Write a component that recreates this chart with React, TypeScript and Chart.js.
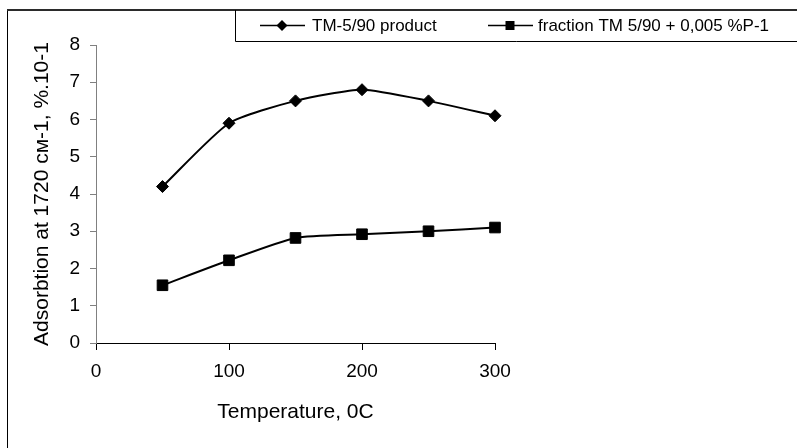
import React, { useEffect, useRef } from 'react';
import { Chart, registerables } from 'chart.js';

Chart.register(...registerables);

const temperatures = [50, 100, 150, 200, 250, 300];
const productValues = [4.2, 5.9, 6.5, 6.8, 6.5, 6.1];
const fractionValues = [1.55, 2.22, 2.82, 2.92, 3.0, 3.1];
const seriesLabels = ['TM-5/90 product', 'fraction TM 5/90 + 0,005 %P-1'];
const xRange = [0, 300];
const xStep = 100;
const yRange = [0, 8];
const yStep = 1;
const xTitle = 'Temperature, 0C';
const yTitle = 'Adsorbtion at 1720 см-1, %.10-1';

const FONT = "'Liberation Sans', Arial, sans-serif";

function drawMarker(ctx: CanvasRenderingContext2D, style: string, x: number, y: number, r: number) {
  ctx.beginPath();
  if (style === 'rectRot') {
    ctx.moveTo(x, y - r);
    ctx.lineTo(x + r, y);
    ctx.lineTo(x, y + r);
    ctx.lineTo(x - r, y);
    ctx.closePath();
  } else {
    ctx.rect(x - r, y - r, 2 * r, 2 * r);
  }
  ctx.fill();
}

const framePlugin = {
  id: 'frame',
  afterDraw(chart: any) {
    const ctx = chart.ctx as CanvasRenderingContext2D;
    ctx.save();
    ctx.strokeStyle = '#000';
    ctx.lineWidth = 1;
    ctx.beginPath();
    ctx.moveTo(7.5, 10);
    ctx.lineTo(7.5, 448);
    ctx.stroke();
    ctx.strokeStyle = '#2b2b2b';
    ctx.lineWidth = 2;
    ctx.beginPath();
    ctx.moveTo(7, 10);
    ctx.lineTo(797, 10);
    ctx.stroke();

    ctx.strokeStyle = '#000';
    ctx.lineWidth = 1;
    ctx.beginPath();
    ctx.moveTo(800, 41.5);
    ctx.lineTo(235.5, 41.5);
    ctx.lineTo(235.5, 10);
    ctx.stroke();

    const entries = [
      { x0: 260, x1: 305, mx: 282, tx: 312, style: 'rectRot', r: 5.5 },
      { x0: 488, x1: 533, mx: 510, tx: 538, style: 'rect', r: 4.5 },
    ];
    const y = 25.5;
    chart.data.datasets.forEach((ds: any, i: number) => {
      const e = entries[i];
      ctx.strokeStyle = ds.borderColor;
      ctx.fillStyle = ds.pointBackgroundColor;
      ctx.lineWidth = 1.5;
      ctx.beginPath();
      ctx.moveTo(e.x0, y);
      ctx.lineTo(e.x1, y);
      ctx.stroke();
      drawMarker(ctx, e.style, e.mx, y, e.r);
      ctx.fillStyle = '#000';
      ctx.font = `17px ${FONT}`;
      ctx.textBaseline = 'middle';
      ctx.textAlign = 'left';
      ctx.fillText(ds.label, e.tx, y + 1);
    });
    ctx.restore();
  },
};

export default function App() {
  const canvasRef = useRef<HTMLCanvasElement | null>(null);

  useEffect(() => {
    if (!canvasRef.current) return;
    const chart = new Chart(canvasRef.current, {
      type: 'line',
      data: {
        labels: temperatures,
        datasets: [
          {
            label: seriesLabels[0],
            data: temperatures.map((t, i) => ({ x: t, y: productValues[i] })),
            borderColor: '#000',
            backgroundColor: '#000',
            pointBackgroundColor: '#000',
            pointBorderColor: '#000',
            borderWidth: 2,
            pointStyle: 'rectRot',
            pointRadius: 6,
            pointBorderWidth: 1,
            tension: 0.2,
            fill: false,
            clip: false,
          },
          {
            label: seriesLabels[1],
            data: temperatures.map((t, i) => ({ x: t, y: fractionValues[i] })),
            borderColor: '#000',
            backgroundColor: '#000',
            pointBackgroundColor: '#000',
            pointBorderColor: '#000',
            borderWidth: 2,
            pointStyle: 'rect',
            pointRadius: 7.5,
            pointBorderWidth: 1,
            tension: 0.2,
            fill: false,
            clip: false,
          },
        ],
      },
      options: {
        responsive: false,
        animation: false,
        layout: { padding: { left: 0, right: 302, top: 45, bottom: 0 } },
        plugins: {
          legend: { display: false },
          tooltip: { enabled: false },
        },
        scales: {
          x: {
            type: 'linear',
            min: xRange[0],
            max: xRange[1],
            afterFit: (s: any) => {
              s.height = 105;
            },
            ticks: {
              stepSize: xStep,
              color: '#000',
              font: { family: FONT, size: 19 },
              padding: 10,
              maxRotation: 0,
            },
            grid: {
              drawOnChartArea: false,
              drawTicks: true,
              tickLength: 7,
              color: '#000',
            },
            border: { display: true, color: '#000', width: 1 },
            title: {
              display: true,
              text: xTitle,
              color: '#000',
              font: { family: FONT, size: 21 },
              padding: { top: 0, bottom: 23 },
            },
          },
          y: {
            min: yRange[0],
            max: yRange[1],
            afterFit: (s: any) => {
              s.width = 96;
            },
            ticks: {
              stepSize: yStep,
              color: '#000',
              font: { family: FONT, size: 19 },
              padding: 10,
            },
            grid: {
              drawOnChartArea: false,
              drawTicks: true,
              tickLength: 6,
              color: '#808080',
            },
            border: { display: true, color: '#808080', width: 1 },
            title: {
              display: true,
              text: yTitle,
              color: '#000',
              font: { family: FONT, size: 21 },
              padding: { top: 30, bottom: 0 },
            },
          },
        },
      },
      plugins: [framePlugin],
    });
    return () => chart.destroy();
  }, []);

  return (
    <div style={{ position: 'absolute', left: 0, top: 0, width: 797, height: 448, background: '#fff' }}>
      <canvas ref={canvasRef} width={797} height={448} style={{ display: 'block' }} />
    </div>
  );
}
